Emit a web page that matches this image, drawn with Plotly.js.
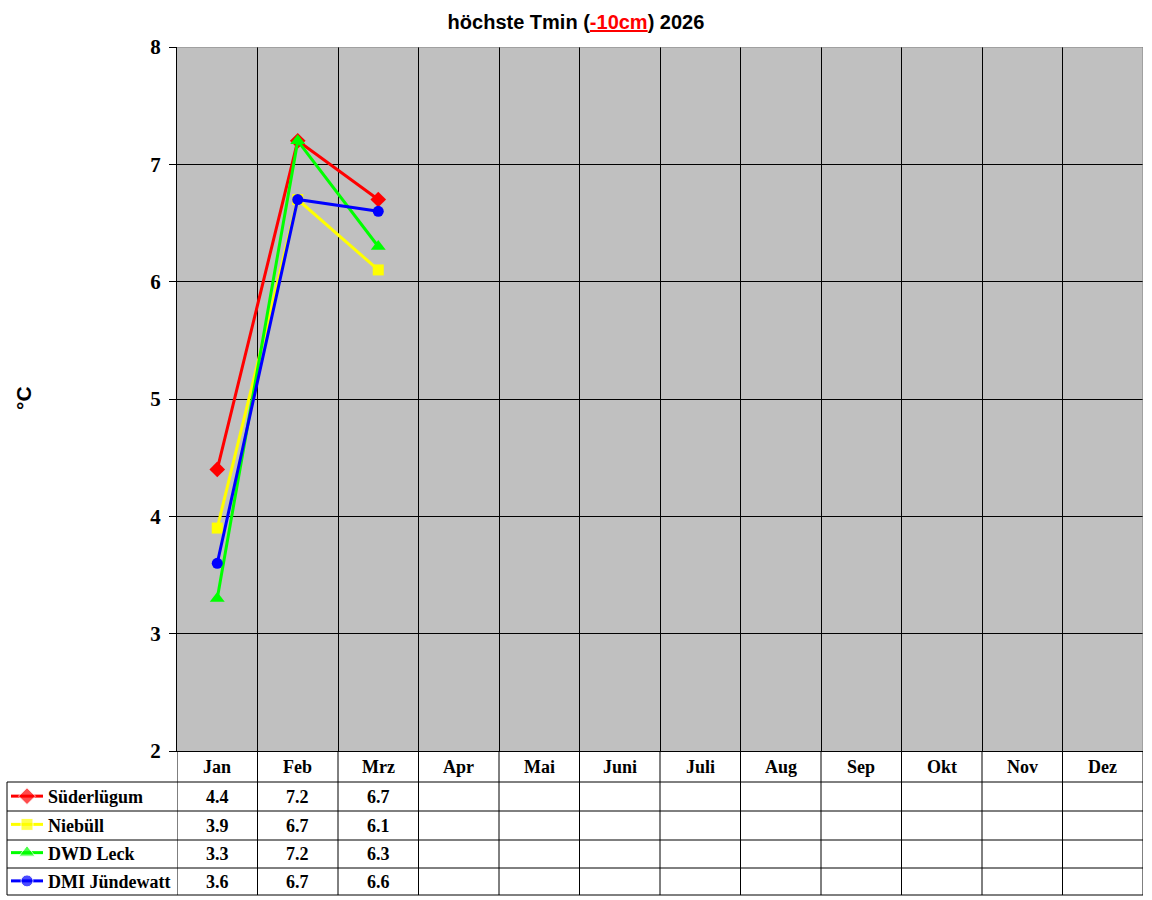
<!DOCTYPE html>
<html>
<head>
<meta charset="utf-8">
<script src="https://cdn.plot.ly/plotly-3.0.1.min.js"></script>
<style>
  html, body { margin: 0; padding: 0; background: #fff; }
  #chart { width: 1152px; height: 900px; }
</style>
</head>
<body>
<div id="chart"></div>
<script>
const MONTHS = ['Jan', 'Feb', 'Mrz', 'Apr', 'Mai', 'Juni', 'Juli', 'Aug', 'Sep', 'Okt', 'Nov', 'Dez'];
const Y_TICKS = [2, 3, 4, 5, 6, 7, 8];

const STATIONS = ['Süderlügum', 'Niebüll', 'DWD Leck', 'DMI Jündewatt'];
const suederluegum = [4.4, 7.2, 6.7, null, null, null, null, null, null, null, null, null];
const niebuell = [3.9, 6.7, 6.1, null, null, null, null, null, null, null, null, null];
const dwdLeck = [3.3, 7.2, 6.3, null, null, null, null, null, null, null, null, null];
const dmiJuendewatt = [3.6, 6.7, 6.6, null, null, null, null, null, null, null, null, null];

const COLORS = ['#FF0000', '#FFFF00', '#00FF00', '#0000FF'];
const SYMBOLS = ['diamond', 'square', 'triangle-up', 'circle'];
const SIZES = [12, 11, 13, 11];

const SERIES = [suederluegum, niebuell, dwdLeck, dmiJuendewatt];

// page geometry (px): plot area 177..1143 x 47..751, table down to 895
const M = { l: 7, r: 9, t: 47, b: 5 };
const PW = 1152 - M.l - M.r;
const PH = 900 - M.t - M.b;
const px = (x) => (x - M.l) / PW;
const py = (y) => (900 - M.b - y) / PH;

const X_DOM0 = px(177);
const Y_DOM0 = py(751);
const ROW_LINES = [782, 811, 840, 868, 895];
const ROW_MID = [797, 826, 854, 882];

const serif = 'Liberation Serif, Times New Roman, serif';
const sans = 'Liberation Sans, Arial, sans-serif';
const TABLE_FONT = { family: serif, size: 18, color: '#000' };

const monthX = MONTHS.map((_, i) => i + 0.5);
const yMin = Y_TICKS[0];
const yMax = Y_TICKS[Y_TICKS.length - 1];

const traces = SERIES.map((vals, s) => ({
  type: 'scatter',
  mode: 'lines+markers',
  name: STATIONS[s],
  x: monthX,
  y: vals,
  xaxis: 'x',
  yaxis: 'y',
  line: { color: COLORS[s], width: 3 },
  marker: { color: COLORS[s], symbol: SYMBOLS[s], size: SIZES[s] },
  hoverinfo: 'skip',
  cliponaxis: false,
}));

// legend swatches inside the table's first column
SERIES.forEach((_, s) => {
  traces.push({
    type: 'scatter',
    mode: 'lines+markers',
    x: [4, 20, 36],
    y: [s + 0.5, s + 0.5, s + 0.5],
    xaxis: 'x2',
    yaxis: 'y2',
    line: { color: COLORS[s], width: 3 },
    marker: { color: COLORS[s], symbol: SYMBOLS[s], size: [0, SIZES[s] + 1, 0] },
    hoverinfo: 'skip',
    showlegend: false,
  });
});

const shapes = [
  // grey plot background, under the gridlines
  {
    type: 'rect', xref: 'x', yref: 'y', layer: 'below',
    x0: 0, x1: MONTHS.length, y0: yMin, y1: yMax,
    fillcolor: '#C0C0C0', line: { width: 0 },
  },
  // grey frame on top and right of plot area
  {
    type: 'line', xref: 'x', yref: 'y', layer: 'above',
    x0: 0, x1: MONTHS.length, y0: yMax, y1: yMax,
    line: { color: '#808080', width: 1 },
  },
  {
    type: 'line', xref: 'x', yref: 'y', layer: 'above',
    x0: MONTHS.length, x1: MONTHS.length, y0: yMin, y1: yMax,
    line: { color: '#808080', width: 1 },
  },
];
// vertical table lines under each month boundary
for (let i = 0; i <= MONTHS.length; i++) {
  shapes.push({
    type: 'line', xref: 'x', yref: 'paper',
    x0: i, x1: i, y0: 0, y1: Y_DOM0,
    line: { color: '#000', width: 1 },
  });
}
// horizontal table lines
ROW_LINES.forEach((y) => {
  shapes.push({
    type: 'line', xref: 'paper', yref: 'paper',
    x0: 0, x1: 1, y0: py(y), y1: py(y),
    line: { color: '#000', width: 1 },
  });
});
// left edge of legend column
shapes.push({
  type: 'line', xref: 'paper', yref: 'paper',
  x0: 0, x1: 0, y0: 0, y1: py(ROW_LINES[0]),
  line: { color: '#000', width: 1 },
});

const annotations = [];
MONTHS.forEach((m, i) => {
  annotations.push({
    xref: 'x', yref: 'paper', x: monthX[i], y: py(767),
    xanchor: 'center', yanchor: 'middle',
    text: `<b>${m}</b>`, showarrow: false, font: TABLE_FONT,
  });
});
STATIONS.forEach((name, s) => {
  annotations.push({
    xref: 'paper', yref: 'paper', x: px(46), y: py(ROW_MID[s]),
    xanchor: 'left', yanchor: 'middle',
    text: `<b>${name}</b>`, showarrow: false, font: TABLE_FONT,
  });
  SERIES[s].forEach((v, i) => {
    if (v === null) return;
    annotations.push({
      xref: 'x', yref: 'paper', x: monthX[i], y: py(ROW_MID[s]),
      xanchor: 'center', yanchor: 'middle',
      text: `<b>${v.toFixed(1)}</b>`, showarrow: false, font: TABLE_FONT,
    });
  });
});
annotations.push({
  xref: 'paper', yref: 'paper', x: px(24), y: py(398),
  xanchor: 'center', yanchor: 'middle',
  text: '<b>°C</b>', textangle: -90, showarrow: false,
  font: { family: sans, size: 21, color: '#000' },
});

const layout = {
  width: 1152,
  height: 900,
  margin: M,
  paper_bgcolor: '#fff',
  plot_bgcolor: 'rgba(0,0,0,0)',
  showlegend: false,
  title: {
    text: '<b>höchste Tmin (<span style="color:#FF0000"><u>-10cm</u></span>) 2026</b>',
    x: 0.5, xref: 'container', y: 1 - 22 / 900, yref: 'container',
    xanchor: 'center', yanchor: 'middle',
    font: { family: sans, size: 20, color: '#000' },
  },
  xaxis: {
    domain: [X_DOM0, 1],
    range: [0, MONTHS.length],
    tickmode: 'array', tickvals: MONTHS.slice(1).map((_, i) => i + 1),
    showticklabels: false, ticks: '',
    showgrid: true, gridcolor: '#000', gridwidth: 1,
    zeroline: false,
    showline: true, linecolor: '#000', linewidth: 1, mirror: false,
    fixedrange: true,
  },
  yaxis: {
    domain: [Y_DOM0, 1],
    range: [yMin, yMax],
    tickmode: 'array', tickvals: Y_TICKS,
    ticks: 'outside', ticklen: 7, tickcolor: '#000', tickwidth: 1,
    ticklabelstandoff: 4,
    tickfont: { family: serif, size: 21, color: '#000', weight: 'bold' },
    showgrid: true, gridcolor: '#000', gridwidth: 1,
    zeroline: false,
    showline: true, linecolor: '#000', linewidth: 1, mirror: false,
    fixedrange: true,
  },
  xaxis2: {
    domain: [0, X_DOM0], range: [0, 170], anchor: 'y2',
    visible: false, fixedrange: true,
  },
  yaxis2: {
    domain: [0, py(ROW_LINES[0])], range: [4, 0], anchor: 'x2',
    visible: false, fixedrange: true,
  },
  shapes,
  annotations,
};

Plotly.newPlot('chart', traces, layout, { displayModeBar: false, staticPlot: true });
</script>
</body>
</html>
